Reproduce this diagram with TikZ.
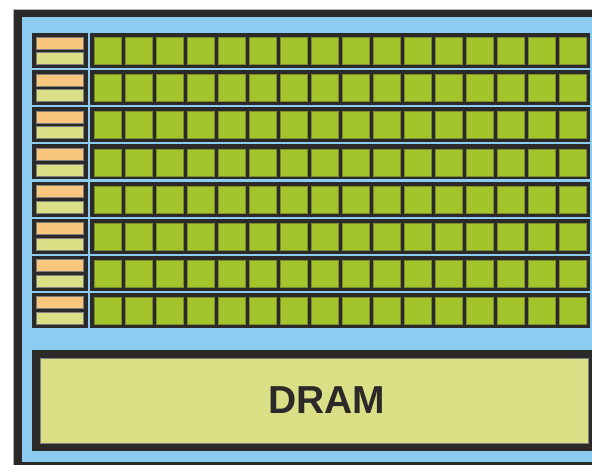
\documentclass[tikz,border=0pt]{standalone}
\usepackage{fontspec}
\setmainfont{Liberation Sans}
\usetikzlibrary{positioning}
\definecolor{chipdark}{HTML}{2B2A29}
\definecolor{chipblue}{HTML}{8BCCF0}
\definecolor{alugreen}{HTML}{A3C42A}
\definecolor{aluedge}{HTML}{7A8C2C}
\definecolor{ctlorange}{HTML}{F8C77D}
\definecolor{dramyellow}{HTML}{DBE086}

\begin{document}
\begin{tikzpicture}[x=1pt,y=-1pt,
  blk/.style={rectangle, fill=chipdark, inner sep=0pt, anchor=north west},
  bar/.style={rectangle, inner sep=0pt, anchor=north west, minimum width=47pt, minimum height=12pt, draw=chipdark!60, line width=0.5pt},
  cell/.style={rectangle, fill=alugreen, draw=aluedge, line width=0.8pt, inner sep=0pt, anchor=north west, minimum size=27pt}]
\useasboundingbox (0,0) rectangle (592,465);
\clip (0,0) rectangle (592,465);

% chip outline
\fill [gray!60] (13,9) rectangle (620,480);
\fill [chipdark] (14,10) rectangle (620,480);
\fill [chipblue] (22,17) rectangle (620,461.7);

% rows: control + ALUs
\foreach \i [evaluate=\i as \ytop using 33+37.1*\i] in {0,...,7}{
  \node [blk, minimum width=56pt, minimum height=35pt] (ctl\i) at (32,\ytop) {};
  \node [bar, fill=ctlorange] (cache\i) at (36,\ytop+3.7) {};
  \node [bar, fill=dramyellow] (reg\i) at (36,\ytop+19.3) {};
  \node [blk, minimum width=500pt, minimum height=35pt] (row\i) at (90,\ytop) {};
  \foreach \j in {0,...,15}
    \node [cell] (alu\i-\j) at (93.5+31*\j,\ytop+4.3) {};
}

% memory
\node [blk, minimum width=600pt, minimum height=101pt] (dramframe) at (32,350) {};
\node [rectangle, fill=dramyellow, draw=chipdark!60, line width=0.5pt, inner sep=0pt, anchor=north west,
  minimum width=548pt, minimum height=85pt] (dram) at (40,358) {};
\node [text=chipdark, font=\fontsize{39}{39}\selectfont\bfseries] (dramlabel) at (327,400) {DRAM};

\end{tikzpicture}
\end{document}
